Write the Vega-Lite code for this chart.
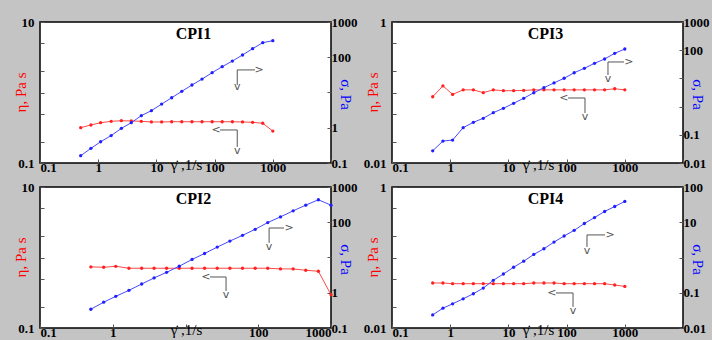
{
  "$schema": "https://vega.github.io/schema/vega-lite/v6.json",
  "autosize": {"type": "none"},
  "padding": {"left": 40, "top": 22, "right": 672, "bottom": 318},
  "background": "#c4c4c4",
  "bounds": "flush",
  "columns": 2,
  "spacing": {"row": 24, "column": 61},
  "datasets": {
    "d": [
      {"p": "CPI1", "g": 0.5, "eta": 0.317, "sig": 0.161},
      {"p": "CPI1", "g": 0.75, "eta": 0.346, "sig": 0.26},
      {"p": "CPI1", "g": 1.1, "eta": 0.373, "sig": 0.4},
      {"p": "CPI1", "g": 1.67, "eta": 0.39, "sig": 0.6},
      {"p": "CPI1", "g": 2.5, "eta": 0.398, "sig": 0.96},
      {"p": "CPI1", "g": 3.7, "eta": 0.395, "sig": 1.39},
      {"p": "CPI1", "g": 5.5, "eta": 0.39, "sig": 2.2},
      {"p": "CPI1", "g": 8.2, "eta": 0.382, "sig": 3.05},
      {"p": "CPI1", "g": 12.3, "eta": 0.382, "sig": 4.7},
      {"p": "CPI1", "g": 18.3, "eta": 0.385, "sig": 7.1},
      {"p": "CPI1", "g": 27.3, "eta": 0.385, "sig": 10.8},
      {"p": "CPI1", "g": 40.8, "eta": 0.385, "sig": 16.3},
      {"p": "CPI1", "g": 60.8, "eta": 0.385, "sig": 24},
      {"p": "CPI1", "g": 90.7, "eta": 0.385, "sig": 36.5},
      {"p": "CPI1", "g": 135, "eta": 0.385, "sig": 54},
      {"p": "CPI1", "g": 202, "eta": 0.385, "sig": 78},
      {"p": "CPI1", "g": 302, "eta": 0.382, "sig": 116},
      {"p": "CPI1", "g": 450, "eta": 0.378, "sig": 175},
      {"p": "CPI1", "g": 671, "eta": 0.366, "sig": 259},
      {"p": "CPI1", "g": 1000, "eta": 0.284, "sig": 295},

      {"p": "CPI3", "g": 0.5, "eta": 0.087, "sig": 0.027},
      {"p": "CPI3", "g": 0.75, "eta": 0.124, "sig": 0.06},
      {"p": "CPI3", "g": 1.1, "eta": 0.094, "sig": 0.065},
      {"p": "CPI3", "g": 1.67, "eta": 0.109, "sig": 0.179},
      {"p": "CPI3", "g": 2.5, "eta": 0.109, "sig": 0.277},
      {"p": "CPI3", "g": 3.7, "eta": 0.0995, "sig": 0.385},
      {"p": "CPI3", "g": 5.5, "eta": 0.109, "sig": 0.61},
      {"p": "CPI3", "g": 8.2, "eta": 0.106, "sig": 0.87},
      {"p": "CPI3", "g": 12.3, "eta": 0.106, "sig": 1.31},
      {"p": "CPI3", "g": 18.3, "eta": 0.107, "sig": 1.97},
      {"p": "CPI3", "g": 27.3, "eta": 0.109, "sig": 3.1},
      {"p": "CPI3", "g": 40.8, "eta": 0.109, "sig": 4.7},
      {"p": "CPI3", "g": 60.8, "eta": 0.109, "sig": 6.9},
      {"p": "CPI3", "g": 90.7, "eta": 0.109, "sig": 10.1},
      {"p": "CPI3", "g": 135, "eta": 0.109, "sig": 15.9},
      {"p": "CPI3", "g": 202, "eta": 0.109, "sig": 22.8},
      {"p": "CPI3", "g": 302, "eta": 0.109, "sig": 34.3},
      {"p": "CPI3", "g": 450, "eta": 0.109, "sig": 48.8},
      {"p": "CPI3", "g": 671, "eta": 0.113, "sig": 77.6},
      {"p": "CPI3", "g": 1000, "eta": 0.109, "sig": 110},

      {"p": "CPI2", "g": 0.5, "eta": 0.736, "sig": 0.34},
      {"p": "CPI2", "g": 0.75, "eta": 0.727, "sig": 0.54},
      {"p": "CPI2", "g": 1.1, "eta": 0.75, "sig": 0.79},
      {"p": "CPI2", "g": 1.67, "eta": 0.704, "sig": 1.17},
      {"p": "CPI2", "g": 2.5, "eta": 0.704, "sig": 1.77},
      {"p": "CPI2", "g": 3.7, "eta": 0.704, "sig": 2.63},
      {"p": "CPI2", "g": 5.5, "eta": 0.704, "sig": 3.8},
      {"p": "CPI2", "g": 8.2, "eta": 0.704, "sig": 5.65},
      {"p": "CPI2", "g": 12.3, "eta": 0.704, "sig": 8.8},
      {"p": "CPI2", "g": 18.3, "eta": 0.704, "sig": 13},
      {"p": "CPI2", "g": 27.3, "eta": 0.704, "sig": 19.7},
      {"p": "CPI2", "g": 40.8, "eta": 0.704, "sig": 29.3},
      {"p": "CPI2", "g": 60.8, "eta": 0.704, "sig": 42.5},
      {"p": "CPI2", "g": 90.7, "eta": 0.704, "sig": 63},
      {"p": "CPI2", "g": 135, "eta": 0.704, "sig": 98},
      {"p": "CPI2", "g": 202, "eta": 0.689, "sig": 142},
      {"p": "CPI2", "g": 302, "eta": 0.689, "sig": 211},
      {"p": "CPI2", "g": 450, "eta": 0.659, "sig": 306},
      {"p": "CPI2", "g": 671, "eta": 0.638, "sig": 434},
      {"p": "CPI2", "g": 1000, "eta": 0.296, "sig": 306},

      {"p": "CPI4", "g": 0.5, "eta": 0.0435, "sig": 0.0235},
      {"p": "CPI4", "g": 0.75, "eta": 0.0435, "sig": 0.0365},
      {"p": "CPI4", "g": 1.1, "eta": 0.0425, "sig": 0.0485},
      {"p": "CPI4", "g": 1.67, "eta": 0.0425, "sig": 0.0674},
      {"p": "CPI4", "g": 2.5, "eta": 0.0425, "sig": 0.0936},
      {"p": "CPI4", "g": 3.7, "eta": 0.0425, "sig": 0.136},
      {"p": "CPI4", "g": 5.5, "eta": 0.0425, "sig": 0.225},
      {"p": "CPI4", "g": 8.2, "eta": 0.0425, "sig": 0.34},
      {"p": "CPI4", "g": 12.3, "eta": 0.0425, "sig": 0.53},
      {"p": "CPI4", "g": 18.3, "eta": 0.0425, "sig": 0.785},
      {"p": "CPI4", "g": 27.3, "eta": 0.0435, "sig": 1.22},
      {"p": "CPI4", "g": 40.8, "eta": 0.0435, "sig": 1.77},
      {"p": "CPI4", "g": 60.8, "eta": 0.0435, "sig": 2.74},
      {"p": "CPI4", "g": 90.7, "eta": 0.0425, "sig": 4.07},
      {"p": "CPI4", "g": 135, "eta": 0.0425, "sig": 5.9},
      {"p": "CPI4", "g": 202, "eta": 0.0425, "sig": 9.2},
      {"p": "CPI4", "g": 302, "eta": 0.0425, "sig": 13.6},
      {"p": "CPI4", "g": 450, "eta": 0.0425, "sig": 20.2},
      {"p": "CPI4", "g": 671, "eta": 0.0407, "sig": 28},
      {"p": "CPI4", "g": 1000, "eta": 0.0389, "sig": 38.9}
    ]
  },
  "concat": [
    {
      "width": 291, "height": 141,
      "title": {"text": "CPI1"},
      "layer": [
        {
          "data": {"name": "d"},
          "transform": [{"filter": "datum.p == 'CPI1'"}],
          "encoding": {
            "x": {"field": "g", "type": "quantitative", "scale": {"type": "log", "domain": [0.1, 10000]},
              "axis": {"title": "γ̇ ,1/s", "values": [0.1, 1, 10, 100, 1000, 10000], "labelExpr": "datum.value < 5000 ? format(datum.value, '~g') : ''", "titleX": 146, "titleY": 6, "titleBaseline": "alphabetic", "labelPadding": 2}},
            "y": {"field": "eta", "type": "quantitative", "scale": {"type": "log", "domain": [0.1, 10]},
              "axis": {"orient": "left", "title": "η, Pa s", "titleColor": "#ff0000", "values": [0.1, 0.2, 0.5, 1, 2, 5, 10], "labelExpr": "datum.value == 0.1 || datum.value == 10 ? format(datum.value, '~g') : ''", "titleX": -20, "titleY": 70, "titleAngle": -90, "titleBaseline": "middle", "labelPadding": 10}}},
          "layer": [
            {"mark": {"type": "line", "color": "#ff4848", "strokeWidth": 1}},
            {"mark": {"type": "point", "filled": true, "color": "#ff2020", "size": 11, "opacity": 1}}
          ]
        },
        {
          "data": {"name": "d"},
          "transform": [{"filter": "datum.p == 'CPI1'"}],
          "encoding": {
            "x": {"field": "g", "type": "quantitative", "scale": {"type": "log", "domain": [0.1, 10000]},
              "axis": {"title": "γ̇ ,1/s", "values": [0.1, 1, 10, 100, 1000, 10000], "labelExpr": "datum.value < 5000 ? format(datum.value, '~g') : ''", "titleX": 146, "titleY": 6, "titleBaseline": "alphabetic", "labelPadding": 2}},
            "y": {"field": "sig", "type": "quantitative", "scale": {"type": "log", "domain": [0.1, 1000]},
              "axis": {"orient": "right", "title": "σ, Pa", "titleColor": "#0000ff", "values": [0.1, 1, 10, 100, 1000], "labelExpr": "datum.value == 10 ? '' : format(datum.value, '~g')", "titleX": 14, "titleY": 72, "titleAngle": 90, "titleBaseline": "middle", "labelPadding": 4}}},
          "layer": [
            {"mark": {"type": "line", "color": "#4848ff", "strokeWidth": 1}},
            {"mark": {"type": "point", "filled": true, "color": "#2020ff", "size": 11, "opacity": 1}}
          ]
        },
        {
          "data": {"values": [{"p": "CPI1"}]},
          "layer": [
            {"mark": "rule", "encoding": {"x": {"datum": 245}, "y": {"datum": 2.09, "scale": {"type": "log", "domain": [0.1, 10]}, "axis": null}, "y2": {"datum": 1.28}}},
            {"mark": "rule", "encoding": {"x": {"datum": 245}, "x2": {"datum": 494}, "y": {"datum": 2.09, "scale": {"type": "log", "domain": [0.1, 10]}, "axis": null}}},
            {"mark": {"type": "text", "text": ">"}, "encoding": {"x": {"datum": 580}, "y": {"datum": 2.09, "scale": {"type": "log", "domain": [0.1, 10]}, "axis": null}}},
            {"mark": {"type": "text", "text": "v"}, "encoding": {"x": {"datum": 245}, "y": {"datum": 1.2, "scale": {"type": "log", "domain": [0.1, 10]}, "axis": null}}},
            {"mark": "rule", "encoding": {"x": {"datum": 124}, "x2": {"datum": 245}, "y": {"datum": 0.294, "scale": {"type": "log", "domain": [0.1, 10]}, "axis": null}}},
            {"mark": "rule", "encoding": {"x": {"datum": 245}, "y": {"datum": 0.294, "scale": {"type": "log", "domain": [0.1, 10]}, "axis": null}, "y2": {"datum": 0.169}}},
            {"mark": {"type": "text", "text": "<"}, "encoding": {"x": {"datum": 106}, "y": {"datum": 0.294, "scale": {"type": "log", "domain": [0.1, 10]}, "axis": null}}},
            {"mark": {"type": "text", "text": "v"}, "encoding": {"x": {"datum": 245}, "y": {"datum": 0.148, "scale": {"type": "log", "domain": [0.1, 10]}, "axis": null}}}
          ]
        }
      ],
      "resolve": {"scale": {"y": "independent"}}
    },
    {
      "width": 291, "height": 141,
      "title": {"text": "CPI3"},
      "layer": [
        {
          "data": {"name": "d"},
          "transform": [{"filter": "datum.p == 'CPI3'"}],
          "encoding": {
            "x": {"field": "g", "type": "quantitative", "scale": {"type": "log", "domain": [0.1, 10000]},
              "axis": {"title": "γ̇ ,1/s", "values": [0.1, 1, 10, 100, 1000, 10000], "labelExpr": "datum.value < 5000 ? format(datum.value, '~g') : ''", "titleX": 146, "titleY": 6, "titleBaseline": "alphabetic", "labelPadding": 2}},
            "y": {"field": "eta", "type": "quantitative", "scale": {"type": "log", "domain": [0.01, 1]},
              "axis": {"orient": "left", "title": "η, Pa s", "titleColor": "#ff0000", "values": [0.01, 0.02, 0.05, 0.1, 0.2, 0.5, 1], "labelExpr": "datum.value == 0.01 || datum.value == 1 ? format(datum.value, '~g') : ''", "titleX": -20, "titleY": 70, "titleAngle": -90, "titleBaseline": "middle", "labelPadding": 10}}},
          "layer": [
            {"mark": {"type": "line", "color": "#ff4848", "strokeWidth": 1}},
            {"mark": {"type": "point", "filled": true, "color": "#ff2020", "size": 11, "opacity": 1}}
          ]
        },
        {
          "data": {"name": "d"},
          "transform": [{"filter": "datum.p == 'CPI3'"}],
          "encoding": {
            "x": {"field": "g", "type": "quantitative", "scale": {"type": "log", "domain": [0.1, 10000]},
              "axis": {"title": "γ̇ ,1/s", "values": [0.1, 1, 10, 100, 1000, 10000], "labelExpr": "datum.value < 5000 ? format(datum.value, '~g') : ''", "titleX": 146, "titleY": 6, "titleBaseline": "alphabetic", "labelPadding": 2}},
            "y": {"field": "sig", "type": "quantitative", "scale": {"type": "log", "domain": [0.01, 1000]},
              "axis": {"orient": "right", "title": "σ, Pa", "titleColor": "#0000ff", "values": [0.01, 0.1, 1, 10, 100, 1000], "labelExpr": "datum.value == 10 || datum.value == 1 ? '' : format(datum.value, '~g')", "titleX": 14, "titleY": 72, "titleAngle": 90, "titleBaseline": "middle", "labelPadding": 4}}},
          "layer": [
            {"mark": {"type": "line", "color": "#4848ff", "strokeWidth": 1}},
            {"mark": {"type": "point", "filled": true, "color": "#2020ff", "size": 11, "opacity": 1}}
          ]
        },
        {
          "data": {"values": [{"p": "CPI3"}]},
          "layer": [
            {"mark": "rule", "encoding": {"x": {"datum": 514}, "y": {"datum": 0.271, "scale": {"type": "log", "domain": [0.01, 1]}, "axis": null}, "y2": {"datum": 0.177}}},
            {"mark": "rule", "encoding": {"x": {"datum": 514}, "x2": {"datum": 968}, "y": {"datum": 0.271, "scale": {"type": "log", "domain": [0.01, 1]}, "axis": null}}},
            {"mark": {"type": "text", "text": ">"}, "encoding": {"x": {"datum": 1180}, "y": {"datum": 0.271, "scale": {"type": "log", "domain": [0.01, 1]}, "axis": null}}},
            {"mark": {"type": "text", "text": "v"}, "encoding": {"x": {"datum": 514}, "y": {"datum": 0.155, "scale": {"type": "log", "domain": [0.01, 1]}, "axis": null}}},
            {"mark": "rule", "encoding": {"x": {"datum": 106}, "x2": {"datum": 207}, "y": {"datum": 0.0836, "scale": {"type": "log", "domain": [0.01, 1]}, "axis": null}}},
            {"mark": "rule", "encoding": {"x": {"datum": 207}, "y": {"datum": 0.0836, "scale": {"type": "log", "domain": [0.01, 1]}, "axis": null}, "y2": {"datum": 0.0512}}},
            {"mark": {"type": "text", "text": "<"}, "encoding": {"x": {"datum": 90}, "y": {"datum": 0.0836, "scale": {"type": "log", "domain": [0.01, 1]}, "axis": null}}},
            {"mark": {"type": "text", "text": "v"}, "encoding": {"x": {"datum": 207}, "y": {"datum": 0.0449, "scale": {"type": "log", "domain": [0.01, 1]}, "axis": null}}}
          ]
        }
      ],
      "resolve": {"scale": {"y": "independent"}}
    },
    {
      "width": 291, "height": 141,
      "title": {"text": "CPI2"},
      "layer": [
        {
          "data": {"name": "d"},
          "transform": [{"filter": "datum.p == 'CPI2'"}],
          "encoding": {
            "x": {"field": "g", "type": "quantitative", "scale": {"type": "log", "domain": [0.1, 1000]},
              "axis": {"title": "γ̇ ,1/s", "values": [0.1, 1, 10, 100, 1000], "labelExpr": "datum.value == 10 ? '' : format(datum.value, '~g')", "titleX": 146, "titleY": 6, "titleBaseline": "alphabetic", "labelPadding": 2, "labelFlush": true}},
            "y": {"field": "eta", "type": "quantitative", "scale": {"type": "log", "domain": [0.1, 10]},
              "axis": {"orient": "left", "title": "η, Pa s", "titleColor": "#ff0000", "values": [0.1, 0.2, 0.5, 1, 2, 5, 10], "labelExpr": "datum.value == 0.1 || datum.value == 10 ? format(datum.value, '~g') : ''", "titleX": -20, "titleY": 70, "titleAngle": -90, "titleBaseline": "middle", "labelPadding": 10}}},
          "layer": [
            {"mark": {"type": "line", "color": "#ff4848", "strokeWidth": 1}},
            {"mark": {"type": "point", "filled": true, "color": "#ff2020", "size": 11, "opacity": 1}}
          ]
        },
        {
          "data": {"name": "d"},
          "transform": [{"filter": "datum.p == 'CPI2'"}],
          "encoding": {
            "x": {"field": "g", "type": "quantitative", "scale": {"type": "log", "domain": [0.1, 1000]},
              "axis": {"title": "γ̇ ,1/s", "values": [0.1, 1, 10, 100, 1000], "labelExpr": "datum.value == 10 ? '' : format(datum.value, '~g')", "titleX": 146, "titleY": 6, "titleBaseline": "alphabetic", "labelPadding": 2, "labelFlush": true}},
            "y": {"field": "sig", "type": "quantitative", "scale": {"type": "log", "domain": [0.1, 1000]},
              "axis": {"orient": "right", "title": "σ, Pa", "titleColor": "#0000ff", "values": [0.1, 1, 10, 100, 1000], "labelExpr": "datum.value == 10 ? '' : format(datum.value, '~g')", "titleX": 14, "titleY": 72, "titleAngle": 90, "titleBaseline": "middle", "labelPadding": 4}}},
          "layer": [
            {"mark": {"type": "line", "color": "#4848ff", "strokeWidth": 1}},
            {"mark": {"type": "point", "filled": true, "color": "#2020ff", "size": 11, "opacity": 1}}
          ]
        },
        {
          "data": {"values": [{"p": "CPI2"}]},
          "layer": [
            {"mark": "rule", "encoding": {"x": {"datum": 141}, "y": {"datum": 2.62, "scale": {"type": "log", "domain": [0.1, 10]}, "axis": null}, "y2": {"datum": 1.61}}},
            {"mark": "rule", "encoding": {"x": {"datum": 141}, "x2": {"datum": 226}, "y": {"datum": 2.62, "scale": {"type": "log", "domain": [0.1, 10]}, "axis": null}}},
            {"mark": {"type": "text", "text": ">"}, "encoding": {"x": {"datum": 265}, "y": {"datum": 2.62, "scale": {"type": "log", "domain": [0.1, 10]}, "axis": null}}},
            {"mark": {"type": "text", "text": "v"}, "encoding": {"x": {"datum": 141}, "y": {"datum": 1.41, "scale": {"type": "log", "domain": [0.1, 10]}, "axis": null}}},
            {"mark": "rule", "encoding": {"x": {"datum": 21.7}, "x2": {"datum": 36.1}, "y": {"datum": 0.529, "scale": {"type": "log", "domain": [0.1, 10]}, "axis": null}}},
            {"mark": "rule", "encoding": {"x": {"datum": 36.1}, "y": {"datum": 0.529, "scale": {"type": "log", "domain": [0.1, 10]}, "axis": null}, "y2": {"datum": 0.335}}},
            {"mark": {"type": "text", "text": "<"}, "encoding": {"x": {"datum": 19.1}, "y": {"datum": 0.529, "scale": {"type": "log", "domain": [0.1, 10]}, "axis": null}}},
            {"mark": {"type": "text", "text": "v"}, "encoding": {"x": {"datum": 36.1}, "y": {"datum": 0.294, "scale": {"type": "log", "domain": [0.1, 10]}, "axis": null}}}
          ]
        }
      ],
      "resolve": {"scale": {"y": "independent"}}
    },
    {
      "width": 291, "height": 141,
      "title": {"text": "CPI4"},
      "layer": [
        {
          "data": {"name": "d"},
          "transform": [{"filter": "datum.p == 'CPI4'"}],
          "encoding": {
            "x": {"field": "g", "type": "quantitative", "scale": {"type": "log", "domain": [0.1, 10000]},
              "axis": {"title": "γ̇ ,1/s", "values": [0.1, 1, 10, 100, 1000, 10000], "labelExpr": "datum.value < 5000 ? format(datum.value, '~g') : ''", "titleX": 146, "titleY": 6, "titleBaseline": "alphabetic", "labelPadding": 2}},
            "y": {"field": "eta", "type": "quantitative", "scale": {"type": "log", "domain": [0.01, 1]},
              "axis": {"orient": "left", "title": "η, Pa s", "titleColor": "#ff0000", "values": [0.01, 0.02, 0.05, 0.1, 0.2, 0.5, 1], "labelExpr": "datum.value == 0.01 || datum.value == 1 ? format(datum.value, '~g') : ''", "titleX": -20, "titleY": 70, "titleAngle": -90, "titleBaseline": "middle", "labelPadding": 10}}},
          "layer": [
            {"mark": {"type": "line", "color": "#ff4848", "strokeWidth": 1}},
            {"mark": {"type": "point", "filled": true, "color": "#ff2020", "size": 11, "opacity": 1}}
          ]
        },
        {
          "data": {"name": "d"},
          "transform": [{"filter": "datum.p == 'CPI4'"}],
          "encoding": {
            "x": {"field": "g", "type": "quantitative", "scale": {"type": "log", "domain": [0.1, 10000]},
              "axis": {"title": "γ̇ ,1/s", "values": [0.1, 1, 10, 100, 1000, 10000], "labelExpr": "datum.value < 5000 ? format(datum.value, '~g') : ''", "titleX": 146, "titleY": 6, "titleBaseline": "alphabetic", "labelPadding": 2}},
            "y": {"field": "sig", "type": "quantitative", "scale": {"type": "log", "domain": [0.01, 100]},
              "axis": {"orient": "right", "title": "σ, Pa", "titleColor": "#0000ff", "values": [0.01, 0.1, 1, 10, 100], "labelExpr": "datum.value == 1 ? '' : format(datum.value, '~g')", "titleX": 14, "titleY": 72, "titleAngle": 90, "titleBaseline": "middle", "labelPadding": 4}}},
          "layer": [
            {"mark": {"type": "line", "color": "#4848ff", "strokeWidth": 1}},
            {"mark": {"type": "point", "filled": true, "color": "#2020ff", "size": 11, "opacity": 1}}
          ]
        },
        {
          "data": {"values": [{"p": "CPI4"}]},
          "layer": [
            {"mark": "rule", "encoding": {"x": {"datum": 224}, "y": {"datum": 0.209, "scale": {"type": "log", "domain": [0.01, 1]}, "axis": null}, "y2": {"datum": 0.141}}},
            {"mark": "rule", "encoding": {"x": {"datum": 224}, "x2": {"datum": 457}, "y": {"datum": 0.209, "scale": {"type": "log", "domain": [0.01, 1]}, "axis": null}}},
            {"mark": {"type": "text", "text": ">"}, "encoding": {"x": {"datum": 557}, "y": {"datum": 0.209, "scale": {"type": "log", "domain": [0.01, 1]}, "axis": null}}},
            {"mark": {"type": "text", "text": "v"}, "encoding": {"x": {"datum": 224}, "y": {"datum": 0.124, "scale": {"type": "log", "domain": [0.01, 1]}, "axis": null}}},
            {"mark": "rule", "encoding": {"x": {"datum": 65.8}, "x2": {"datum": 129}, "y": {"datum": 0.0314, "scale": {"type": "log", "domain": [0.01, 1]}, "axis": null}}},
            {"mark": "rule", "encoding": {"x": {"datum": 129}, "y": {"datum": 0.0314, "scale": {"type": "log", "domain": [0.01, 1]}, "axis": null}, "y2": {"datum": 0.0199}}},
            {"mark": {"type": "text", "text": "<"}, "encoding": {"x": {"datum": 56}, "y": {"datum": 0.0314, "scale": {"type": "log", "domain": [0.01, 1]}, "axis": null}}},
            {"mark": {"type": "text", "text": "v"}, "encoding": {"x": {"datum": 129}, "y": {"datum": 0.0174, "scale": {"type": "log", "domain": [0.01, 1]}, "axis": null}}}
          ]
        }
      ],
      "resolve": {"scale": {"y": "independent"}}
    }
  ],
  "config": {
    "view": {"fill": "white", "stroke": "black", "strokeWidth": 1.5},
    "axis": {
      "grid": false, "domain": false, "tickSize": -4, "tickColor": "#555555",
      "labelFont": "Liberation Serif", "labelFontWeight": "bold", "labelFontSize": 13, "labelColor": "black",
      "labelOverlap": false, "labelFlush": true,
      "titleFont": "Liberation Serif", "titleFontWeight": "normal", "titleFontSize": 15, "titleColor": "black"
    },
    "axisY": {"labelFlush": false},
    "rule": {"color": "#555555", "strokeWidth": 1},
    "text": {"color": "#555555", "font": "DejaVu Sans", "fontSize": 11},
    "title": {"font": "Liberation Serif", "fontSize": 16, "fontWeight": "bold", "color": "black", "offset": -26, "frame": "group", "anchor": "middle", "dx": 8}
  }
}
